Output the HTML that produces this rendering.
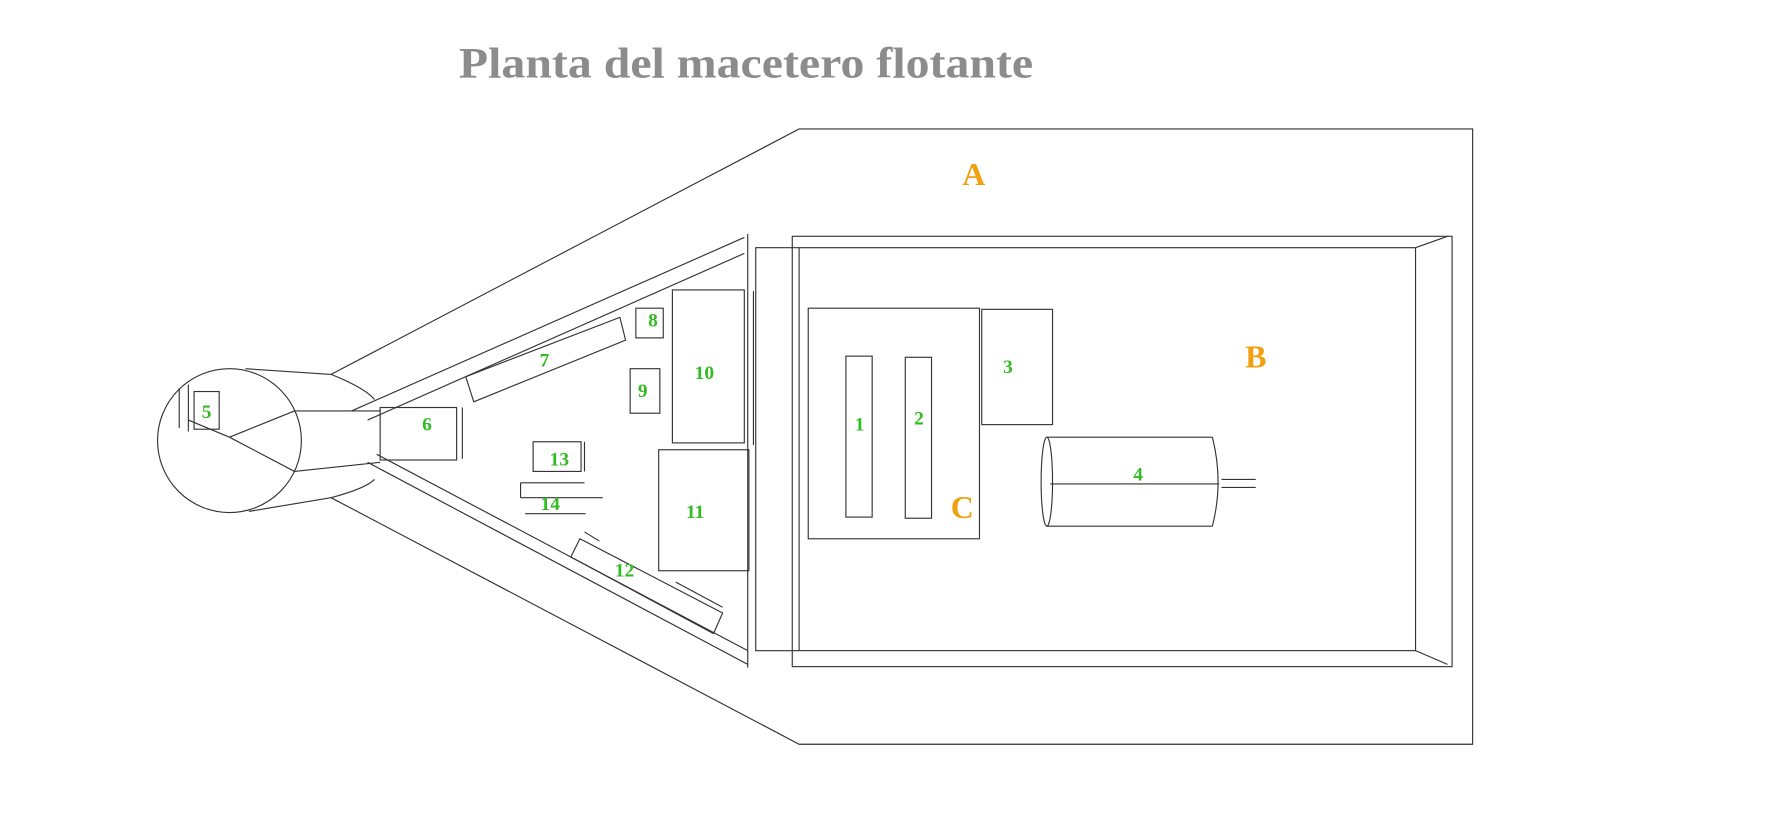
<!DOCTYPE html>
<html><head><meta charset="utf-8"><style>html,body{margin:0;padding:0;background:#fff;width:1790px;height:831px;overflow:hidden}</style></head><body>
<svg width="1790" height="831" viewBox="0 0 1568 728" preserveAspectRatio="none" xmlns="http://www.w3.org/2000/svg" font-family="Liberation Serif, serif" font-weight="bold">
<text x="402" y="68" font-size="38" fill="#8c8c8c" textLength="503" lengthAdjust="spacingAndGlyphs">Planta del macetero flotante</text>
<g fill="none" stroke="#333" stroke-width="1">
<polyline points="290,328 700,113 1290,113 1290,652 700,652 290,436"/>
<line x1="308" y1="360" x2="652" y2="208"/>
<line x1="322" y1="368" x2="652" y2="222"/>
<line x1="322" y1="405" x2="655" y2="582"/>
<line x1="330" y1="398" x2="655" y2="570"/>
<line x1="655" y1="205" x2="655" y2="585"/>
<line x1="660" y1="255" x2="660" y2="390"/>
<rect x="694" y="207" width="578" height="377"/>
<rect x="700" y="217" width="540" height="353"/>
<line x1="1240" y1="217" x2="1268" y2="207"/>
<line x1="1240" y1="570" x2="1268" y2="582"/>
<polyline points="700,217 662,217 662,570 700,570"/>
<rect x="708" y="270" width="150" height="202"/>
<rect x="741" y="312" width="23" height="141"/>
<rect x="793" y="313" width="23" height="141"/>
<rect x="860" y="271" width="62" height="101"/>
<line x1="917" y1="383" x2="1062" y2="383"/>
<line x1="917" y1="461" x2="1062" y2="461"/>
<ellipse cx="917" cy="422" rx="5" ry="39"/>
<path d="M1062,383 Q1072,422 1062,461"/>
<line x1="920" y1="424" x2="1068" y2="424"/>
<line x1="1070" y1="420" x2="1100" y2="420"/>
<line x1="1070" y1="427" x2="1100" y2="427"/>
<ellipse cx="201" cy="386" rx="63" ry="63"/>
<line x1="215" y1="323" x2="290" y2="328"/>
<path d="M290,328 Q320,340 328,350"/>
<line x1="218" y1="448" x2="290" y2="436"/>
<path d="M290,436 Q320,428 328,420"/>
<line x1="258" y1="360" x2="333" y2="360"/>
<line x1="258" y1="413" x2="333" y2="405"/>
<line x1="201" y1="383" x2="258" y2="360"/>
<line x1="201" y1="383" x2="258" y2="413"/>
<line x1="165" y1="368" x2="201" y2="383"/>
<line x1="165" y1="337" x2="165" y2="378"/>
<line x1="157" y1="340" x2="157" y2="375"/>
<rect x="333" y="357" width="67" height="46"/>
<line x1="405" y1="357" x2="405" y2="402"/>
<rect x="170" y="343" width="22" height="33"/>
<polygon points="408,330 543,278 548,298 415,352"/>
<rect x="557" y="270" width="24" height="26"/>
<rect x="552" y="323" width="26" height="39"/>
<rect x="589" y="254" width="63" height="134"/>
<rect x="577" y="394" width="79" height="106"/>
<rect x="467" y="387" width="42" height="26"/>
<line x1="512" y1="387" x2="512" y2="413"/>
<line x1="456" y1="423" x2="512" y2="423"/>
<line x1="456" y1="423" x2="456" y2="436"/>
<line x1="456" y1="436" x2="528" y2="436"/>
<line x1="460" y1="450" x2="513" y2="450"/>
<polygon points="508,472 633,537 625,555 500,488"/>
<line x1="512" y1="466" x2="525" y2="474"/>
<line x1="592" y1="510" x2="633" y2="532"/>
</g>
<g fill="#33bb22" font-size="17" text-anchor="middle">
<text x="753" y="377">1</text><text x="805" y="372">2</text><text x="883" y="327">3</text>
<text x="997" y="421">4</text><text x="181" y="366">5</text><text x="374" y="377">6</text>
<text x="477" y="321">7</text><text x="572" y="286">8</text><text x="563" y="348">9</text>
<text x="617" y="332">10</text><text x="609" y="454">11</text><text x="547" y="505">12</text>
<text x="490" y="408">13</text><text x="482" y="447">14</text>
</g>
<g fill="#f0a010" font-size="28" text-anchor="middle">
<text x="853" y="162">A</text><text x="1100" y="322">B</text><text x="843" y="454">C</text>
</g>
</svg>
</body></html>
